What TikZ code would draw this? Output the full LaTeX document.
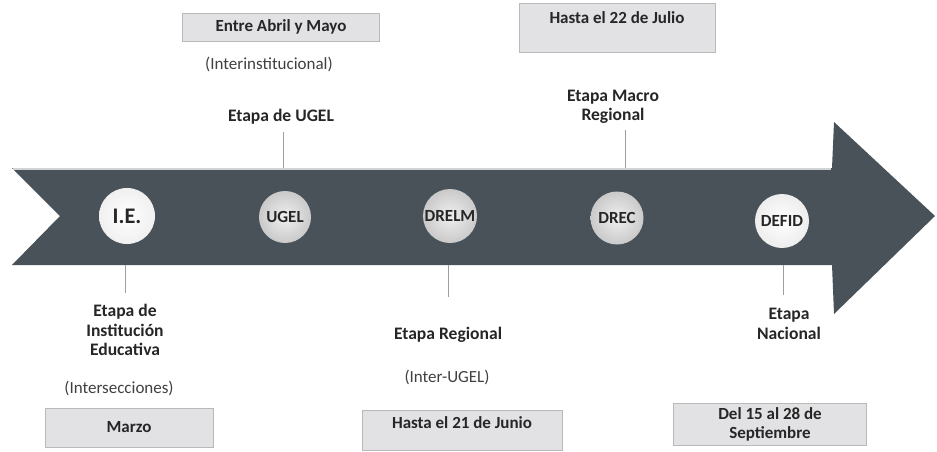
\documentclass[tikz,border=0pt]{standalone}
\usepackage{fontspec}
\setmainfont{Carlito}
\usetikzlibrary{shadows}
\definecolor{arrowgray}{RGB}{72,82,88}
\definecolor{boxgray}{RGB}{226,226,229}

\begin{document}
\begin{tikzpicture}[x=0.03cm, y=-0.03cm,
  stage/.style={font=\bfseries\fontsize{15}{16.5}\selectfont, align=center, text=black!85},
  note/.style={font=\fontsize{14.5}{16}\selectfont, text=black!75},
  datebox/.style={draw=gray!55, fill=boxgray, inner sep=0pt, align=center, text=black!85,
    font=\bfseries\fontsize{14.5}{16}\selectfont,
    drop shadow={shadow xshift=0pt, shadow yshift=-1.2pt, fill=gray!70, opacity=.6}},
  level/.style={circle, inner sep=0pt, font=\bfseries\fontsize{14.5}{16}\selectfont, text=black!85,
    inner color=gray!12, outer color=gray!42},
  link/.style={draw=gray!75, line width=0.5pt}]
  \useasboundingbox (0,0) rectangle (937,451);

  % the timeline arrow
  \fill[arrowgray] (12,168) -- (832,168) -- (834,122) -- (935,216) -- (834,314)
    -- (832,265) -- (12,265) -- (60,216) -- cycle;
  \draw[white!75!arrowgray, line width=1pt] (13,169) -- (831,169);

  % levels on the arrow
  \node (ie) [level, minimum size=1.68cm, inner color=white, outer color=gray!12, font=\bfseries\fontsize{19}{21}\selectfont] at (127,216) {I.E.};
  \node (ugel) [level, minimum size=1.56cm] at (285,217) {UGEL};
  \node (drelm) [level, minimum size=1.62cm] at (450,216) {DRELM};
  \node (drec) [level, minimum size=1.59cm] at (617,218) {DREC};
  \node (defid) [level, minimum size=1.62cm, inner color=white, outer color=gray!14] at (782,221) {DEFID};

  % points on the edges of the arrow
  \coordinate (ugeltop) at (283,168);
  \coordinate (dectop) at (625,168);
  \coordinate (iebot) at (125,265);
  \coordinate (regbot) at (448,265);
  \coordinate (nacbot) at (783,265);

  % stages above
  \node (entre) [datebox, minimum width=5.91cm, minimum height=0.84cm] at (281,27) {Entre Abril y Mayo};
  \node (interinst) [note] at (269,64) {(Interinstitucional)};
  \node (ugellab) [stage] at (281,117) {Etapa de UGEL};
  \node (julio) [datebox, minimum width=5.88cm, text height=0.63cm, text depth=0.84cm] at (617,27.5) {Hasta el 22 de Julio};
  \node (macrolab) [stage] at (613,107) {Etapa Macro\\Regional};

  % stages below
  \node (ielab) [stage] at (125,330) {Etapa de\\Institución\\Educativa};
  \node (intersec) [note] at (119,388) {(Intersecciones)};
  \node (marzo) [datebox, minimum width=5.04cm, minimum height=1.17cm] at (129,427.5) {Marzo};
  \node (reglab) [stage] at (448,335) {Etapa Regional};
  \node (interugel) [note] at (447,377) {(Inter-UGEL)};
  \node (junio) [datebox, minimum width=6cm, text height=0.54cm, text depth=0.66cm] at (462,430) {Hasta el 21 de Junio};
  \node (naclab) [stage] at (789,324) {Etapa\\Nacional};
  \node (setiem) [datebox, minimum width=5.79cm, minimum height=1.26cm] at (770,424) {Del 15 al 28 de\\Septiembre};

  % connectors
  \draw[link, shorten >=3pt] (ugeltop) -- (ugeltop |- ugellab.south);
  \draw[link, shorten >=2pt] (dectop) -- (dectop |- macrolab.south);
  \draw[link, shorten >=6pt] (iebot) -- (iebot |- ielab.north);
  \draw[link, shorten >=22pt] (regbot) -- (regbot |- reglab.north);
  \draw[link, shorten >=8pt] (nacbot) -- (nacbot |- naclab.north);
\end{tikzpicture}
\end{document}
